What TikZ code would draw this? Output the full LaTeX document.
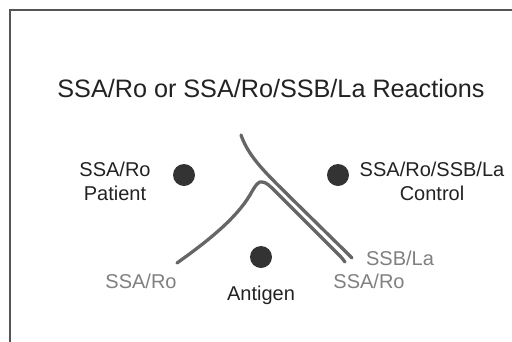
\documentclass[tikz,border=0pt]{standalone}
\usepackage{fontspec}
\setmainfont{Liberation Sans}
\definecolor{dotc}{HTML}{333333}
\definecolor{curvec}{HTML}{666666}
\definecolor{framec}{HTML}{555555}
\definecolor{lblc}{HTML}{222222}
\definecolor{glblc}{HTML}{808080}
\tikzset{
  dotnode/.style={circle, fill=dotc, inner sep=0pt, minimum size=22pt},
  lbl/.style={text=lblc, font=\fontsize{20}{24}\selectfont, align=center, inner sep=0pt},
  glbl/.style={text=glblc, font=\fontsize{20}{24}\selectfont, inner sep=0pt},
  curve/.style={draw=curvec, line width=3.3pt, line cap=round, line join=round},
}
\begin{document}
\begin{tikzpicture}[x=1pt,y=-1pt]
\useasboundingbox (0,0) rectangle (512,341);
\fill[white] (0,0) rectangle (512,341);
\coordinate (fbl) at (10,343);
\coordinate (ftl) at (10,10);
\coordinate (ftr) at (514,10);
\draw[framec, line width=2pt] (fbl) -- (ftl) -- (ftr);
\node[text=lblc, font=\fontsize{25.2}{30}\selectfont, inner sep=0pt] (title) at (271,88) {SSA/Ro or SSA/Ro/SSB/La Reactions};
\node[dotnode] (dp) at (184,175) {};
\node[dotnode] (dc) at (338,175) {};
\node[dotnode] (da) at (261,257) {};
\node[lbl] (lp) at (115,181) {SSA/Ro\\Patient};
\node[lbl] (lc) at (432,181) {SSA/Ro/SSB/La\\Control};
\node[lbl] (la) at (261,295) {Antigen};
\node[glbl] (g1) at (141,281) {SSA/Ro};
\node[glbl] (g2) at (400,258) {SSB/La};
\node[glbl] (g3) at (369,281) {SSA/Ro};
\coordinate (c1s) at (177,263);
\coordinate (c1p) at (262,182);
\coordinate (c1e) at (345,262);
\coordinate (c2s) at (241,135);
\coordinate (c2e) at (352,258);
\draw[curve] (c1s) .. controls (205,243) and (235,220) .. (250,195)
  .. controls (256,184) and (259,181) .. (c1p)
  .. controls (266,182) and (270,186) .. (275,191)
  -- (338,254) .. controls (341,257) and (343,259) .. (c1e);
\draw[curve] (c2s) .. controls (249,158) and (268,175) .. (290,197)
  -- (345,251) .. controls (348,254) and (350,256) .. (c2e);
\end{tikzpicture}
\end{document}
